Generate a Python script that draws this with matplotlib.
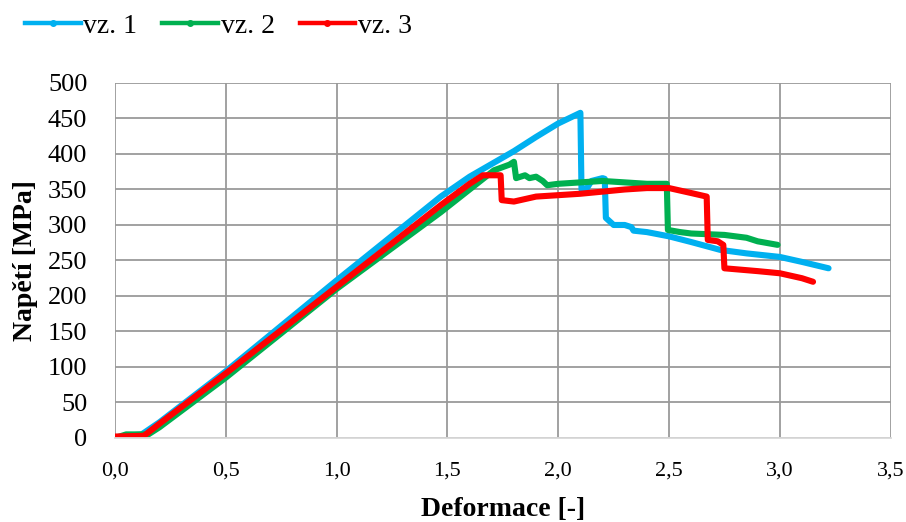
import matplotlib.pyplot as plt
from matplotlib.lines import Line2D

plt.rcParams['font.family'] = ['Liberation Serif', 'DejaVu Serif']

# vz. 1
x1 = [0, 0.05, 0.12, 0.2, 0.5, 1.0, 1.47, 1.6, 1.7, 1.8, 1.9, 2.0, 2.1, 2.105, 2.13, 2.15, 2.2, 2.21,
      2.215, 2.25, 2.3, 2.33, 2.34, 2.4, 2.5, 2.6, 2.73, 2.85, 3.0, 3.1, 3.22]
y1 = [0, 3, 5, 22, 94, 222, 340, 368, 386, 404, 424, 443, 458, 350, 352, 362, 366, 365,
      310, 300, 300, 297, 292, 290, 284, 276, 265, 260, 255, 248, 239]
# vz. 2
x2 = [0, 0.05, 0.15, 0.2, 0.5, 1.0, 1.47, 1.6, 1.71, 1.78, 1.80, 1.81, 1.85, 1.87, 1.9, 1.93, 1.95,
      2.0, 2.1, 2.2, 2.3, 2.4, 2.49, 2.495, 2.55, 2.6, 2.75, 2.85, 2.9, 2.99]
y2 = [0, 5, 5, 15, 85, 210, 318, 350, 377, 385, 389, 366, 370, 366, 368, 362, 356,
      358, 360, 362, 360, 358, 358, 293, 290, 288, 286, 282, 277, 272]
# vz. 3
x3 = [0, 0.13, 0.2, 0.5, 1.0, 1.47, 1.6, 1.66, 1.74, 1.745, 1.8, 1.9, 2.0, 2.1, 2.2, 2.3,
      2.4, 2.5, 2.6, 2.67, 2.675, 2.72, 2.745, 2.75, 2.9, 3.0, 3.1, 3.15]
y3 = [2, 3, 20, 91, 213, 328, 358, 370, 370, 335, 333, 340, 342, 344, 347, 350,
      352, 352, 345, 340, 279, 277, 272, 239, 235, 232, 225, 220]

labels = ['vz. 1', 'vz. 2', 'vz. 3']
colors = ['#00B0F0', '#00B050', '#FF0000']
xticks = [0, 0.5, 1.0, 1.5, 2.0, 2.5, 3.0, 3.5]
yticks = list(range(0, 501, 50))

fig = plt.figure(figsize=(9.06, 5.22), dpi=100)
ax = fig.add_axes([0.127, 0.161, 0.856, 0.68])

for xs, ys, c in zip([x1, x2, x3], [y1, y2, y3], colors):
    ax.plot(xs, ys, color=c, linewidth=4.4, solid_joinstyle='round', solid_capstyle='round')

ax.set_xlim(0, 3.5)
ax.set_ylim(0, 500)
ax.set_xticks(xticks)
ax.set_xticklabels([('%.1f' % t).replace('.', ',') for t in xticks])
ax.set_yticks(yticks)
ax.grid(True, color='#9A9A9A', linewidth=1.3)
ax.set_axisbelow(True)
for s in ['top', 'right', 'left']:
    ax.spines[s].set_visible(False)
ax.spines['bottom'].set_color('#D9D9D9')
ax.spines['bottom'].set_linewidth(1.3)
ax.tick_params(length=0, colors='black')
ax.tick_params(axis='x', labelsize=16, pad=17)
ax.tick_params(axis='y', labelsize=19, pad=20)

ax.set_xlabel('Deformace [-]', fontsize=20, fontweight='bold', labelpad=12)
ax.set_ylabel('Napětí [MPa]', fontsize=20, fontweight='bold', labelpad=7)

handles = [Line2D([0], [0], color=c, linewidth=3.2, marker='o', markersize=4) for c in colors]
fig.legend(handles, labels, loc='upper left', bbox_to_anchor=(0.0, 1.022), ncol=3,
           frameon=False, fontsize=20, handlelength=2.0, handletextpad=0.1, columnspacing=0.9)

fig.savefig('out.png', dpi=100)
